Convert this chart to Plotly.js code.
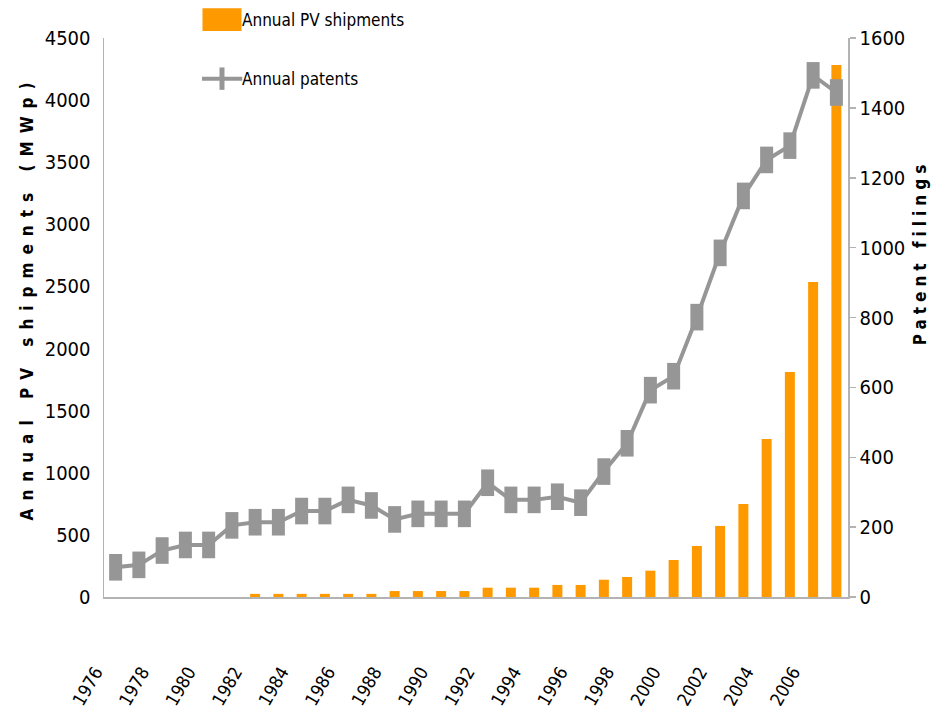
<!DOCTYPE html>
<html>
<head>
<meta charset="utf-8">
<script src="https://cdn.plot.ly/plotly-3.0.1.min.js"></script>
<style>
  html, body { margin: 0; padding: 0; background: #fff; }
  #chart { width: 943px; height: 713px; }
  .ytitle { letter-spacing: 8px; }
  .y2title { letter-spacing: 5px; }
</style>
</head>
<body>
<div id="chart"></div>
<script>
// ---- data ----
var years = [1976,1977,1978,1979,1980,1981,1982,1983,1984,1985,1986,1987,1988,1989,1990,1991,
             1992,1993,1994,1995,1996,1997,1998,1999,2000,2001,2002,2003,2004,2005,2006,2007];
var pvShipments = [0,0,0,0,0,0,25,25,25,25,25,25,48,48,48,48,
                   75,75,75,97,97,139,161,212,298,411,572,749,1272,1812,2536,4283];
var patents = [85,92,133,149,149,205,214,214,246,246,278,262,222,238,238,238,
               327,278,278,287,270,359,440,592,632,801,985,1148,1251,1292,1493,1444];
var tickLabels = ['1976','1978','1980','1982','1984','1986','1988','1990',
                  '1992','1994','1996','1998','2000','2002','2004','2006'];
var seriesNames = ['Annual PV shipments', 'Annual patents'];
var leftTitle = 'Annual PV shipments (MWp)';
var rightTitle = 'Patent filings';

var FONT = "'DejaVu Sans Condensed', 'Liberation Sans Narrow', 'Arial Narrow', sans-serif";
var TFONT = "'DejaVu Sans Condensed', 'DejaVu Sans', sans-serif";
var ORANGE = '#FF9900';
var GRAY = '#969696';
var AXIS = '#b3b3b3';

var traces = [
  {
    type: 'bar', x: years, y: pvShipments, name: seriesNames[0],
    marker: { color: ORANGE }, legendgroup: 'a', yaxis: 'y', hoverinfo: 'x+y'
  },
  {
    type: 'scatter', mode: 'lines+markers', x: years, y: patents, name: seriesNames[1],
    yaxis: 'y2', legendgroup: 'b',
    line: { color: GRAY, width: 4 },
    marker: { symbol: 'line-ns', size: 19, color: GRAY, line: { color: GRAY, width: 13 } }
  }
];

var layout = {
  width: 943, height: 713,
  margin: { l: 104, r: 95, t: 38, b: 116, pad: 0 },
  paper_bgcolor: '#fff', plot_bgcolor: '#fff',
  font: { family: FONT, color: '#000', size: 20 },
  bargap: 0.57,
  showlegend: true,
  legend: {
    x: 0.1317, xanchor: 'left', y: 1.0, yanchor: 'top',
    orientation: 'v', tracegroupgap: 34,
    font: { family: FONT, size: 17, color: '#000' },
    bgcolor: 'rgba(0,0,0,0)'
  },
  xaxis: {
    type: 'linear', range: [1975.5, 2007.5],
    tickmode: 'array', tickvals: tickLabels.map(Number), ticktext: tickLabels,
    tickangle: -60, ticklabelstandoff: 60,
    tickfont: { family: FONT, size: 18, color: '#000' },
    showline: true, linecolor: AXIS, linewidth: 1.5,
    ticks: '', showgrid: false, zeroline: false, fixedrange: true
  },
  yaxis: {
    range: [0, 4500], dtick: 500, tick0: 0,
    tickfont: { family: FONT, size: 20, color: '#000' },
    showline: true, linecolor: AXIS, linewidth: 1.5,
    ticks: '', ticklabelstandoff: 8, showgrid: false, zeroline: false,
    title: { text: leftTitle, font: { family: TFONT, size: 17, color: '#000', weight: 'bold' }, standoff: 12 }
  },
  yaxis2: {
    overlaying: 'y', side: 'right', range: [0, 1600], dtick: 200, tick0: 0,
    tickfont: { family: FONT, size: 20, color: '#000' },
    showline: true, linecolor: AXIS, linewidth: 1.5,
    ticks: 'outside', ticklen: 6, tickcolor: AXIS, tickwidth: 1.5,
    showgrid: false, zeroline: false,
    title: { text: rightTitle, font: { family: TFONT, size: 17, color: '#000', weight: 'bold' }, standoff: 10 }
  }
};

// prepend/append a transform once per Plotly-drawn state of an element
function prependTransform(el, extra) {
  if (!el) return;
  var cur = el.getAttribute('transform') || '';
  if (el.__applied === cur) return;
  var next = extra + ' ' + cur;
  el.setAttribute('transform', next);
  el.__applied = next;
}
function appendTransform(el, extra) {
  if (!el) return;
  var cur = el.getAttribute('transform') || '';
  if (el.__applied === cur) return;
  var next = cur + ' ' + extra;
  el.setAttribute('transform', next);
  el.__applied = next;
}

function adjust() {
  var legendTraces = document.querySelectorAll('.legend .traces');
  if (legendTraces[0]) {
    legendTraces[0].querySelectorAll('.legendpoints path').forEach(function (p) {
      appendTransform(p, 'scale(3.25,1.9)');
    });
  }
  document.querySelectorAll('.legendlines path').forEach(function (p) {
    prependTransform(p, 'translate(20,0) scale(1.35,1) translate(-20,0)');
  });
  prependTransform(document.querySelector('g.legend'), 'translate(0,-36)');
  prependTransform(document.querySelector('.ytitle'), 'translate(5,-20)');
  prependTransform(document.querySelector('.y2title'), 'translate(0,-65)');
  document.querySelectorAll('.xtick text').forEach(function (t) {
    prependTransform(t, 'translate(-20,-4)');
  });
}

Plotly.newPlot('chart', traces, layout, { displayModeBar: false, staticPlot: true }).then(function (gd) {
  adjust();
  gd.on('plotly_afterplot', adjust);
  setTimeout(adjust, 50);
  setTimeout(adjust, 300);
});
</script>
</body>
</html>
